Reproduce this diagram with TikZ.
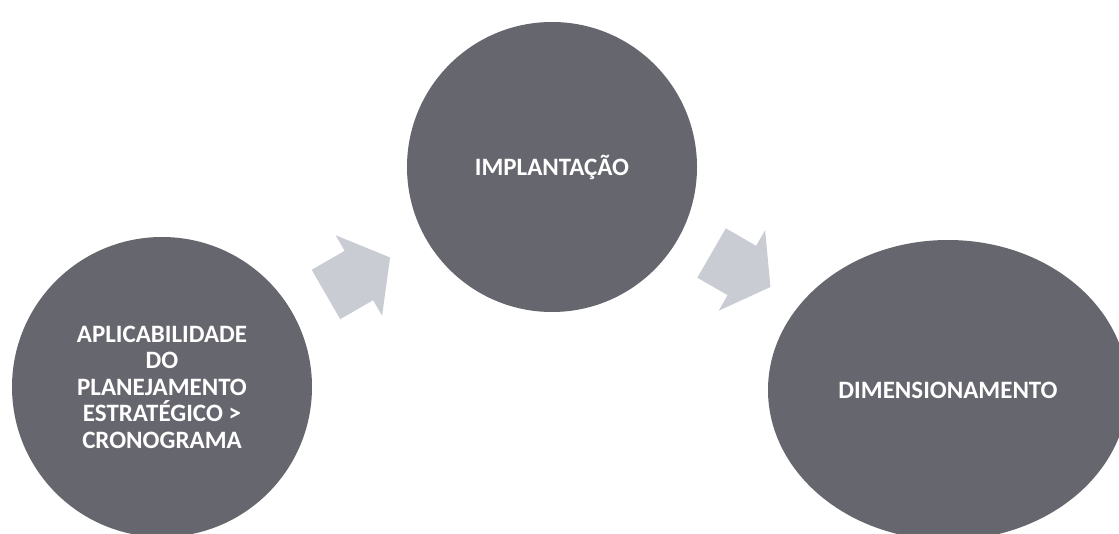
\documentclass[tikz,border=0pt]{standalone}
\usepackage{fontspec}
\setmainfont{Carlito}
\usetikzlibrary{shapes.geometric}
\definecolor{discgray}{RGB}{102,102,110}
\definecolor{arrowgray}{RGB}{202,204,212}
\tikzset{
  disc/.style={ellipse, fill=discgray, draw=none, inner sep=0pt, text=white,
    align=center, font=\fontsize{25}{26.5}\selectfont\bfseries},
  blockarrow/.style={fill=arrowgray, draw=none}
}
\begin{document}
\begin{tikzpicture}[x=1pt, y=-1pt]
\useasboundingbox (0,0) rectangle (1119,534);
\clip (0,0) rectangle (1119,534);
\node[disc, minimum width=300pt, minimum height=300pt] (c1) at (162,387)
  {APLICABILIDADE\\DO\\PLANEJAMENTO\\ESTRATÉGICO >\\CRONOGRAMA};
\node[disc, minimum width=290pt, minimum height=290pt] (c2) at (552,167)
  {IMPLANTAÇÃO};
\node[disc, minimum width=360pt, minimum height=300pt] (c3) at (948,390)
  {DIMENSIONAMENTO};
\coordinate (a1) at (358,276);
\coordinate (a2) at (741,270);
\fill[blockarrow, shift={(a1)}, rotate=30]
  (-37,-28.5) -- (1,-28.5) -- (1,-46.5) -- (37,0) -- (1,46.5) -- (1,28.5) -- (-37,28.5) -- cycle;
\fill[blockarrow, shift={(a2)}, rotate=-30]
  (-34,-28.5) -- (1,-28.5) -- (1,-46.5) -- (34,0) -- (1,46.5) -- (1,28.5) -- (-34,28.5) -- cycle;
\end{tikzpicture}
\end{document}
